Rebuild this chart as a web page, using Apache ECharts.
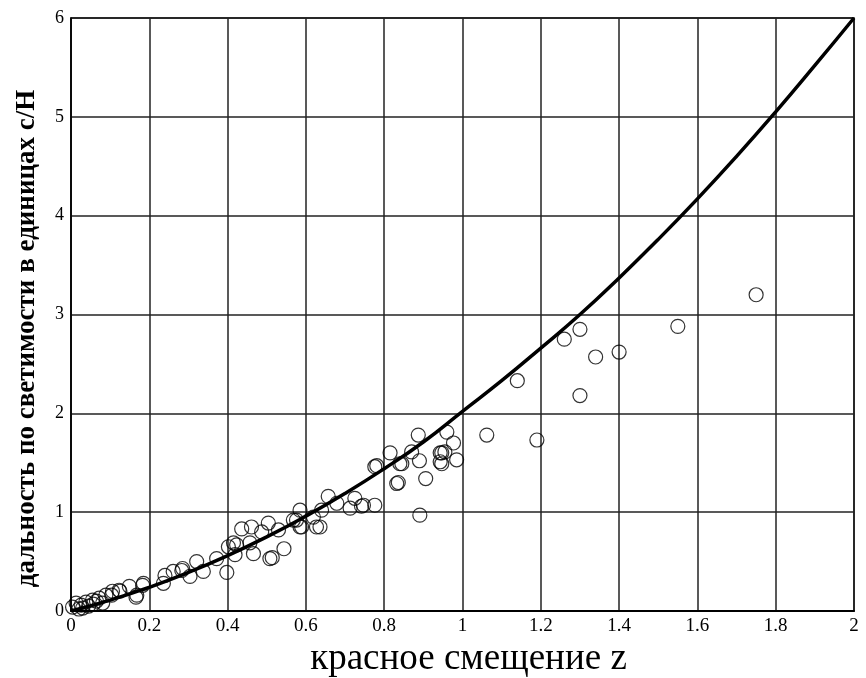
<!DOCTYPE html>
<html>
<head>
<meta charset="utf-8">
<script src="https://cdn.jsdelivr.net/npm/echarts@6/dist/echarts.min.js"></script>
<style>
  html, body { margin: 0; padding: 0; background: #fff; }
  #chart { width: 866px; height: 678px; }
</style>
</head>
<body>
<div id="chart"></div>
<script>
// theory curve
const curveZ = [0, 0.1, 0.2, 0.3, 0.4, 0.5, 0.6, 0.7, 0.8, 0.9, 1.0, 1.1, 1.2, 1.3, 1.4, 1.5, 1.6, 1.7, 1.8, 1.9, 2.0];
const curveD = [0, 0.11, 0.24, 0.39, 0.56, 0.75, 0.96, 1.19, 1.44, 1.71, 2.02, 2.33, 2.66, 3.0, 3.37, 3.76, 4.17, 4.6, 5.05, 5.52, 6.0];

// supernova points: redshift and distance
const obsZ = [
  0.004, 0.013, 0.02, 0.026, 0.03, 0.038, 0.045, 0.055, 0.057, 0.065, 0.072, 0.081, 0.089, 0.104, 0.106, 0.123, 0.125,
  0.149, 0.166, 0.168, 0.183, 0.185, 0.236, 0.24, 0.261, 0.283, 0.285, 0.304, 0.321, 0.338, 0.372,
  0.398, 0.402, 0.415, 0.419, 0.423, 0.436, 0.457, 0.461, 0.466, 0.487, 0.504, 0.508, 0.514, 0.53, 0.544,
  0.568, 0.576, 0.585, 0.585, 0.589, 0.619, 0.627, 0.636, 0.64, 0.657, 0.679, 0.713, 0.725, 0.742, 0.747,
  0.776, 0.776, 0.781, 0.815, 0.832, 0.836, 0.84, 0.845, 0.87, 0.887, 0.89, 0.891, 0.906,
  0.943, 0.943, 0.947, 0.947, 0.955, 0.96, 0.977, 0.985, 1.062, 1.14, 1.19, 1.26, 1.30, 1.30, 1.34, 1.40, 1.55, 1.75
];
const obsD = [
  0.04, 0.08, 0.02, 0.06, 0.03, 0.09, 0.05, 0.11, 0.07, 0.1, 0.13, 0.08, 0.16, 0.16, 0.2, 0.21, 0.2,
  0.25, 0.14, 0.16, 0.26, 0.28, 0.28, 0.36, 0.4, 0.41, 0.43, 0.35, 0.5, 0.4, 0.53,
  0.39, 0.65, 0.69, 0.57, 0.67, 0.83, 0.69, 0.85, 0.58, 0.8, 0.89, 0.53, 0.54, 0.82, 0.63,
  0.92, 0.92, 1.02, 0.85, 0.85, 0.95, 0.85, 0.85, 1.02, 1.16, 1.09, 1.04, 1.14, 1.06, 1.07,
  1.07, 1.46, 1.47, 1.6, 1.29, 1.30, 1.49, 1.49, 1.61, 1.78, 1.52, 0.97, 1.34,
  1.60, 1.51, 1.60, 1.49, 1.61, 1.81, 1.70, 1.53, 1.78, 2.33, 1.73, 2.75, 2.85, 2.18, 2.57, 2.62, 2.88, 3.20
];

const xTicks = ['0', '0.2', '0.4', '0.6', '0.8', '1', '1.2', '1.4', '1.6', '1.8', '2'];

const chart = echarts.init(document.getElementById('chart'));

const serif = 'Liberation Serif, Times New Roman, serif';
const gridLine = { show: true, lineStyle: { color: '#222', width: 1.5 } };

const option = {
  animation: false,
  backgroundColor: '#fff',
  grid: {
    left: 71, right: 12, top: 18, bottom: 67,
    outerBoundsMode: 'none',
    show: true, borderColor: '#000', borderWidth: 1.5
  },
  xAxis: {
    type: 'value',
    min: 0, max: 2, interval: 0.2,
    name: 'красное смещение z',
    nameLocation: 'middle',
    nameGap: 27,
    nameTextStyle: { fontFamily: serif, fontSize: 37, color: '#000', padding: [0, 0, 0, 12] },
    axisLine: { lineStyle: { color: '#000', width: 2 } },
    axisTick: { show: false },
    axisLabel: {
      fontFamily: serif, fontSize: 19, color: '#000', margin: 6,
      formatter: v => xTicks[Math.round(v / 0.2)]
    },
    splitLine: gridLine
  },
  yAxis: {
    type: 'value',
    min: 0, max: 6, interval: 1,
    name: 'дальность по светимости в единицах c/H',
    nameLocation: 'middle',
    nameGap: 30,
    nameTextStyle: { fontFamily: serif, fontSize: 27, fontWeight: 'bold', color: '#000', padding: [0, 48, 0, 0] },
    axisLine: { show: true, lineStyle: { color: '#000', width: 1.5 } },
    axisTick: { show: false },
    axisLabel: { fontFamily: serif, fontSize: 18, color: '#000', margin: 7 },
    splitLine: gridLine
  },
  series: [
    {
      type: 'scatter',
      data: obsZ.map((z, i) => [z, obsD[i]]),
      symbol: 'circle',
      symbolSize: 14,
      itemStyle: { color: 'rgba(0,0,0,0)', borderColor: '#000', borderWidth: 1.2 },
      z: 3
    },
    {
      type: 'line',
      data: curveZ.map((z, i) => [z, curveD[i]]),
      smooth: true,
      showSymbol: false,
      lineStyle: { color: '#000', width: 3.5 },
      z: 4
    }
  ]
};

chart.setOption(option);
</script>
</body>
</html>
